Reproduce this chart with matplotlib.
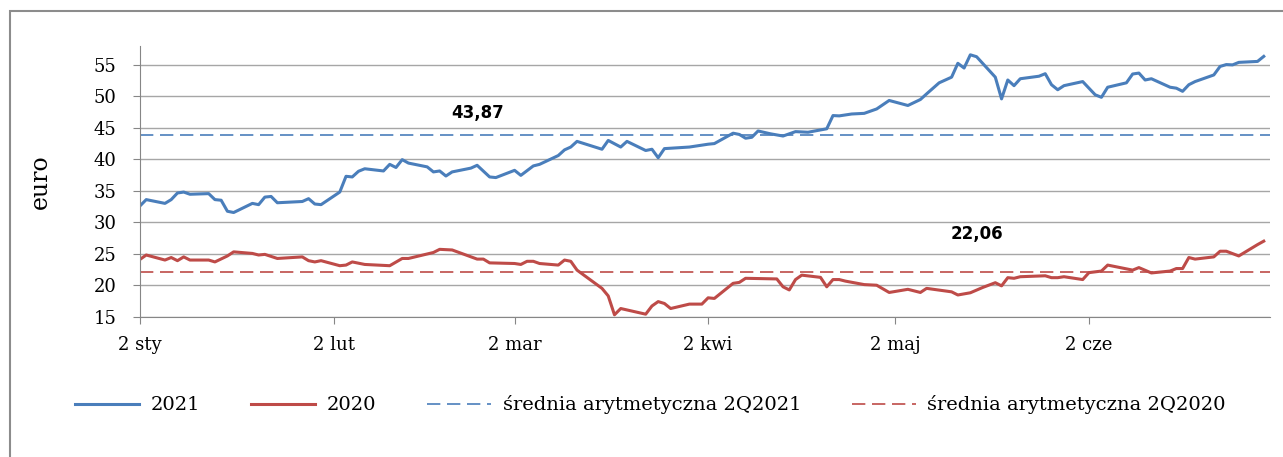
import matplotlib
matplotlib.use("Agg")
import matplotlib.pyplot as plt
from matplotlib.patches import Rectangle
import pandas as pd

# data
dates_2021 = ["01-02", "01-03", "01-06", "01-07", "01-08", "01-09", "01-10", "01-13", "01-14", "01-15",
              "01-16", "01-17", "01-20", "01-21", "01-22", "01-23", "01-24", "01-28", "01-29", "01-30",
              "01-31", "02-03", "02-04", "02-05", "02-06", "02-07", "02-10", "02-11", "02-12", "02-13",
              "02-14", "02-17", "02-18", "02-19", "02-20", "02-21", "02-24", "02-25", "02-27", "02-28",
              "03-02", "03-03", "03-05", "03-06", "03-09", "03-10", "03-11", "03-12", "03-16", "03-17",
              "03-19", "03-20", "03-23", "03-24", "03-25", "03-26", "03-30", "04-02", "04-03", "04-06",
              "04-07", "04-08", "04-09", "04-10", "04-12", "04-14", "04-16", "04-18", "04-21", "04-22",
              "04-23", "04-25", "04-27", "04-29", "05-01", "05-04", "05-06", "05-07", "05-09", "05-11",
              "05-12", "05-13", "05-14", "05-15", "05-18", "05-19", "05-20", "05-21", "05-22", "05-25",
              "05-26", "05-27", "05-28", "05-29", "06-01", "06-03", "06-04", "06-05", "06-08", "06-09",
              "06-10", "06-11", "06-12", "06-15", "06-16", "06-17", "06-18", "06-19", "06-22", "06-23",
              "06-24", "06-25", "06-26", "06-29", "06-30"]
price_2021 = [32.6, 33.6, 33.0, 33.6, 34.65, 34.8, 34.45, 34.55, 33.6, 33.5,
              31.75, 31.55, 33.0, 32.8, 34.0, 34.1, 33.1, 33.3, 33.75, 32.9,
              32.8, 34.8, 37.3, 37.2, 38.1, 38.5, 38.15, 39.2, 38.7, 39.95,
              39.4, 38.8, 38.0, 38.15, 37.35, 38.0, 38.6, 39.05, 37.2, 37.1,
              38.25, 37.45, 38.95, 39.2, 40.6, 41.5, 41.95, 42.85, 41.6, 43.0,
              41.95, 42.85, 41.4, 41.6, 40.25, 41.7, 41.95, 42.4, 42.5, 44.15,
              43.95, 43.35, 43.5, 44.5, 44.05, 43.7, 44.4, 44.3, 44.85, 46.95,
              46.9, 47.2, 47.3, 48.0, 49.35, 48.55, 49.5, 50.4, 52.15, 53.05,
              55.25, 54.5, 56.6, 56.3, 53.05, 49.6, 52.6, 51.7, 52.8, 53.2,
              53.6, 51.85, 51.05, 51.7, 52.35, 50.25, 49.85, 51.45, 52.15, 53.55,
              53.7, 52.6, 52.8, 51.45, 51.3, 50.8, 51.85, 52.35, 53.4, 54.75,
              55.05, 55.0, 55.4, 55.55, 56.35]

dates_2020 = ["01-02", "01-03", "01-06", "01-07", "01-08", "01-09", "01-10", "01-13", "01-14", "01-16",
              "01-17", "01-20", "01-21", "01-22", "01-24", "01-28", "01-29", "01-30", "01-31", "02-03",
              "02-04", "02-05", "02-07", "02-11", "02-13", "02-14", "02-18", "02-19", "02-21", "02-25",
              "02-26", "02-27", "03-02", "03-03", "03-04", "03-05", "03-06", "03-09", "03-10", "03-11",
              "03-12", "03-16", "03-17", "03-18", "03-19", "03-23", "03-24", "03-25", "03-26", "03-27",
              "03-30", "04-01", "04-02", "04-03", "04-06", "04-07", "04-08", "04-13", "04-14", "04-15",
              "04-16", "04-17", "04-20", "04-21", "04-22", "04-23", "04-24", "04-27", "04-29", "05-01",
              "05-04", "05-06", "05-07", "05-11", "05-12", "05-14", "05-16", "05-18", "05-19", "05-20",
              "05-21", "05-22", "05-26", "05-27", "05-28", "05-29", "06-01", "06-02", "06-04", "06-05",
              "06-09", "06-10", "06-12", "06-15", "06-16", "06-17", "06-18", "06-19", "06-22", "06-23",
              "06-24", "06-26", "06-29", "06-30"]
price_2020 = [24.1, 24.8, 24.0, 24.4, 23.9, 24.5, 24.0, 24.0, 23.7, 24.65,
              25.3, 25.05, 24.8, 24.9, 24.25, 24.5, 23.9, 23.7, 23.9, 23.1,
              23.2, 23.7, 23.3, 23.1, 24.25, 24.25, 25.2, 25.7, 25.6, 24.15,
              24.15, 23.55, 23.45, 23.3, 23.8, 23.8, 23.45, 23.2, 24.0, 23.8,
              22.4, 19.5, 18.3, 15.3, 16.3, 15.4, 16.7, 17.4, 17.1, 16.3,
              17.0, 17.0, 18.0, 17.9, 20.3, 20.45, 21.1, 21.0, 19.75, 19.25,
              20.9, 21.6, 21.25, 19.75, 20.9, 20.9, 20.65, 20.1, 20.0, 18.85,
              19.35, 18.85, 19.5, 18.95, 18.45, 18.8, 19.65, 20.4, 19.9, 21.2,
              21.1, 21.35, 21.5, 21.2, 21.2, 21.35, 20.9, 22.0, 22.25, 23.2,
              22.4, 22.8, 21.95, 22.25, 22.65, 22.65, 24.4, 24.15, 24.5, 25.4,
              25.4, 24.65, 26.45, 27.0]

mean_2021 = 43.87
mean_2020 = 22.06
mean_labels = ["43,87", "22,06"]
label_dates = ["02-25", "05-15"]
label_values = [47.3, 28.2]

tick_dates = ["01-02", "02-02", "03-02", "04-02", "05-02", "06-02"]
tick_labels = ["2 sty", "2 lut", "2 mar", "2 kwi", "2 maj", "2 cze"]

series_names = ["2021", "2020",
                "średnia arytmetyczna 2Q2021", "średnia arytmetyczna 2Q2020"]


def to_dates(md):
    # all series drawn on a common calendar axis
    return pd.to_datetime(["2020-" + s for s in md])


blue = "#4A7EBB"
red = "#BE4B48"
grid_c = "#A6A6A6"
axis_c = "#868686"

plt.rcParams["font.family"] = ["DejaVu Serif"]

fig = plt.figure(figsize=(12.83, 4.57), dpi=100)
ax = fig.add_axes([140 / 1283, 1 - 316.7 / 457, 1130 / 1283, (316.7 - 46) / 457])

# outer frame of the chart area
fig.patches.append(Rectangle((10 / 1283, -0.1), 1.2, 1.1 - 11 / 457,
                             transform=fig.transFigure, fill=False,
                             edgecolor="#8C8C8C", linewidth=1.5))

ax.plot(to_dates(dates_2021), price_2021, color=blue, lw=2.2, label=series_names[0],
        solid_joinstyle="round")
ax.plot(to_dates(dates_2020), price_2020, color=red, lw=2.2, label=series_names[1],
        solid_joinstyle="round")
ax.axhline(mean_2021, color=blue, lw=1.2, dashes=(8, 4), label=series_names[2])
ax.axhline(mean_2020, color=red, lw=1.2, dashes=(8, 4), label=series_names[3])

for txt, d, v in zip(mean_labels, label_dates, label_values):
    ax.text(to_dates([d])[0], v, txt, family="DejaVu Sans", fontweight="bold",
            fontsize=12, ha="center", va="center")

ax.set_ylim(15, 58)
ax.set_yticks(range(15, 60, 5))
ax.set_xlim(pd.Timestamp("2020-01-02"), pd.Timestamp("2020-07-01"))
ax.set_xticks(to_dates(tick_dates))
ax.set_xticklabels(tick_labels)
ax.yaxis.grid(True, color=grid_c, lw=1)
ax.set_axisbelow(True)
ax.set_ylabel("euro", fontsize=17, labelpad=30)

for side in ["top", "right"]:
    ax.spines[side].set_visible(False)
for side in ["left", "bottom"]:
    ax.spines[side].set_color(axis_c)
ax.tick_params(axis="both", colors=axis_c, labelcolor="black", labelsize=13, length=5)
ax.tick_params(axis="x", pad=9)
ax.tick_params(axis="y", pad=12)

fig.legend(loc="center", bbox_to_anchor=(0.507, 1 - 405 / 457), ncol=4, frameon=False,
           fontsize=14, handlelength=3.3, handletextpad=0.6, columnspacing=2.6)

fig.savefig("out.png", dpi=100)
